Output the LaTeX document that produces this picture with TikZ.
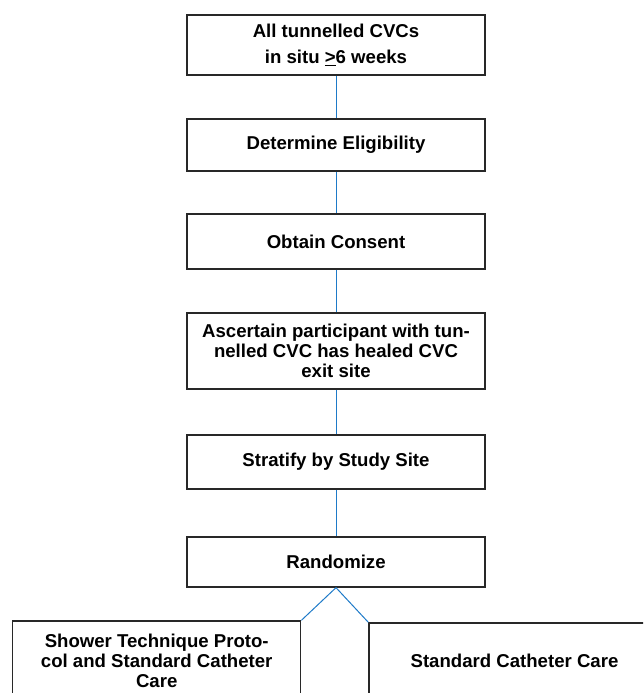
\documentclass[tikz,border=0pt]{standalone}
\usepackage{fontspec}
\setmainfont{Liberation Sans}
\definecolor{linkblue}{RGB}{30,122,200}
\definecolor{boxline}{RGB}{40,40,40}
\begin{document}
\begin{tikzpicture}[x=1pt,y=-1pt,
  box/.style={draw=boxline, line width=1.3pt, fill=white, inner sep=0pt,
    align=center, font=\bfseries\fontsize{18.6}{20}\selectfont},
  stagebox/.style={box, minimum width=298pt},
  link/.style={draw=linkblue, line width=1pt}]
\useasboundingbox (0,0) rectangle (643,693);
\clip (0,0) rectangle (643,693);

% main column of steps
\node[stagebox, minimum height=60pt] (b1) at (336,45)
  {All tunnelled CVCs\\[6pt]in situ \underline{>}6 weeks};
\node[stagebox, minimum height=52pt] (b2) at (336,145) {Determine Eligibility};
\node[stagebox, minimum height=55pt] (b3) at (336,241.5) {Obtain Consent};
\node[stagebox, minimum height=76pt] (b4) at (336,351)
  {Ascertain participant with tun-\\nelled CVC has healed CVC\\exit site};
\node[stagebox, minimum height=54pt] (b5) at (336,462) {Stratify by Study Site};
\node[stagebox, minimum height=50pt] (b6) at (336,562) {Randomize};

% the two study arms
\node[box, minimum width=288pt, minimum height=80pt] (armA) at (156.7,661)
  {Shower Technique Proto-\\col and Standard Catheter\\Care};
\node[box, minimum width=291pt, minimum height=76pt] (armB) at (514.5,661)
  {Standard Catheter Care};

% connectors
\draw[link] (b1.south) -- (b2.north);
\draw[link] (b2.south) -- (b3.north);
\draw[link] (b3.south) -- (b4.north);
\draw[link] (b4.south) -- (b5.north);
\draw[link] (b5.south) -- (b6.north);
\draw[link] (b6.south) -- (armA.north east);
\draw[link] (b6.south) -- (armB.north west);
\end{tikzpicture}
\end{document}
